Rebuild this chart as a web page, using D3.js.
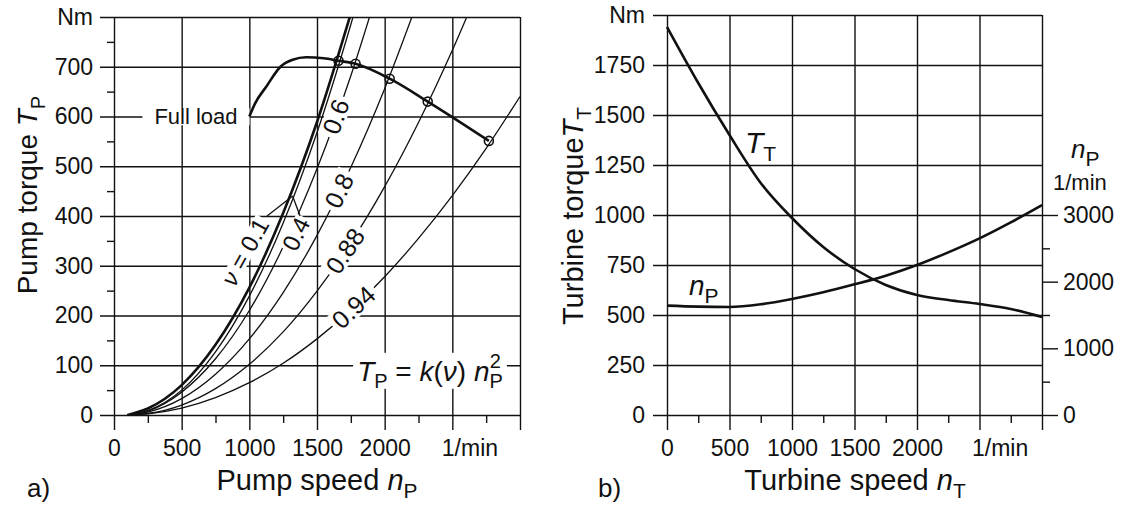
<!DOCTYPE html>
<html lang="en">
<head>
<meta charset="UTF-8">
<title>Pump and turbine characteristics</title>
<script src="https://d3js.org/d3.v7.min.js"></script>
<style>
  body { margin: 0; background: #fff; }
  svg { font-family: "Liberation Sans", Arial, Helvetica, sans-serif; fill: #111; }
  .axis line { stroke: #111; stroke-width: 1.4; }
  .curve { fill: none; stroke: #111; stroke-width: 1.3; }
  .thick { stroke-width: 2.6; }
</style>
</head>
<body>
<svg id="chart" width="1128" height="511"></svg>
<script>
// ---------- a) pump torque vs pump speed for several speed ratios ----------
const pumpSpeedTicks = [0, 500, 1000, 1500, 2000, 2500, 3000];
const pumpSpeedMinor = [250, 750, 1250, 1750, 2250, 2750];
const pumpTorqueTicks = [0, 100, 200, 300, 400, 500, 600, 700, 800];
const pumpTorqueMinor = [50, 150, 250, 350, 450, 550, 650, 750];

// [speed 1/min, torque Nm]
const ratio01 = [[100, 0], [250, 13], [500, 60], [750, 141], [1000, 256], [1250, 406], [1500, 589], [1750, 807]];
const ratio04 = [[100, 0], [250, 9], [500, 50], [750, 127], [1000, 239], [1250, 386], [1500, 568], [1750, 785], [1800, 832]];
const ratio06 = [[100, 0], [250, 8], [500, 46], [750, 113], [1000, 210], [1250, 338], [1500, 495], [1750, 682], [2000, 900]];
const ratio08 = [[100, 0], [250, 6], [500, 33], [750, 82], [1000, 153], [1250, 246], [1500, 361], [1750, 498], [2000, 656], [2250, 836]];
const ratio088 = [[100, 0], [250, 3], [500, 20], [750, 53], [1000, 102], [1250, 167], [1500, 249], [1750, 346], [2000, 459], [2250, 588], [2500, 733], [2750, 893]];
const ratio094 = [[100, 0], [250, 2.5], [500, 14], [750, 35], [1000, 65], [1250, 104], [1500, 153], [1750, 211], [2000, 278], [2250, 355], [2500, 441], [2750, 536], [3000, 640]];

const fullLoad = [[1000, 600], [1040, 625], [1130, 662], [1230, 700], [1320, 714], [1420, 719], [1550, 717], [1659, 712], [1785, 706], [2037, 676], [2318, 630], [2770, 551]];
const fullLoadPoints = [[1659, 712], [1785, 706], [2037, 676], [2318, 630], [2770, 551]];

// ---------- b) turbine torque and pump speed vs turbine speed ----------
const turbineSpeedTicks = [0, 500, 1000, 1500, 2000, 2500, 3000];
const turbineSpeedMinor = [250, 750, 1250, 1750, 2250, 2750];
const turbineTorqueTicks = [0, 250, 500, 750, 1000, 1250, 1500, 1750, 2000];
const pumpSpeedRightTicks = [0, 1000, 2000, 3000];
const pumpSpeedRightMinor = [500, 1500, 2500];

const turbineTorque = [[0, 1940], [250, 1660], [500, 1400], [750, 1160], [1000, 985], [1250, 840], [1500, 730], [1750, 650], [2000, 600], [2250, 575], [2500, 555], [2750, 530], [3000, 490]];
const pumpSpeedB = [[0, 1640], [250, 1625], [500, 1620], [750, 1660], [1000, 1740], [1250, 1840], [1500, 1960], [1750, 2090], [2000, 2250], [2250, 2440], [2500, 2650], [2750, 2890], [3000, 3150]];

const svg = d3.select("#chart");
const tickFont = 23;

// scales
const xA = d3.scaleLinear().domain([0, 3000]).range([114, 520]);
const yA = d3.scaleLinear().domain([0, 800]).range([415, 17]);
const xB = d3.scaleLinear().domain([0, 3000]).range([667, 1042]);
const yB = d3.scaleLinear().domain([0, 2000]).range([415, 15]);
const yB2 = d3.scaleLinear().domain([0, 3000]).range([415, 215]);

function styleAxis(sel, ends) {
    sel.attr("font-size", tickFont).attr("font-family", "'Liberation Sans', Arial, sans-serif");
    sel.selectAll("text").attr("fill", "#111");
    sel.selectAll(".tick line").filter(d => ends.includes(d)).attr("stroke-width", 2.2);
    sel.select(".domain").remove();
}

// ---- panel a grid / axes ----
svg.append("g").attr("class", "axis")
    .attr("transform", `translate(${xA(3000)},0)`)
    .call(d3.axisLeft(yA).tickValues(pumpTorqueTicks).tickSize(xA(3000) - 100).tickPadding(7)
        .tickFormat(d => d === 800 ? "Nm" : d))
    .call(styleAxis, [0, 800]);

svg.append("g").attr("class", "axis")
    .attr("transform", `translate(0,${yA(800)})`)
    .call(d3.axisBottom(xA).tickValues(pumpSpeedTicks).tickSize(430 - yA(800)).tickPadding(10)
        .tickFormat(d => d === 2500 ? "1/min" : d === 3000 ? "" : d))
    .call(styleAxis, [0, 3000])
    .selectAll("text").filter(d => d === 2500).attr("text-anchor", "start").attr("x", -11);

svg.append("g").attr("class", "axis")
    .attr("transform", `translate(0,${yA(0)})`)
    .call(d3.axisBottom(xA).tickValues(pumpSpeedMinor).tickSize(8).tickFormat(""))
    .select(".domain").remove();

svg.append("g").attr("class", "axis")
    .attr("transform", `translate(${xA(0)},0)`)
    .call(d3.axisLeft(yA).tickValues(pumpTorqueMinor).tickSize(7).tickFormat(""))
    .select(".domain").remove();

// ---- panel b grid / axes ----
svg.append("g").attr("class", "axis")
    .attr("transform", `translate(${xB(3000)},0)`)
    .call(d3.axisLeft(yB).tickValues(turbineTorqueTicks).tickSize(xB(3000) - 653).tickPadding(8)
        .tickFormat(d => d === 2000 ? "Nm" : d))
    .call(styleAxis, [0, 2000]);

svg.append("g").attr("class", "axis")
    .attr("transform", `translate(0,${yB(2000)})`)
    .call(d3.axisBottom(xB).tickValues(turbineSpeedTicks).tickSize(430 - yB(2000)).tickPadding(10)
        .tickFormat(d => d === 2500 ? "1/min" : d === 3000 ? "" : d))
    .call(styleAxis, [0, 3000])
    .selectAll("text").filter(d => d === 2500).attr("text-anchor", "start").attr("x", -8);

svg.append("g").attr("class", "axis")
    .attr("transform", `translate(0,${yB(0)})`)
    .call(d3.axisBottom(xB).tickValues(turbineSpeedMinor).tickSize(8).tickFormat(""))
    .select(".domain").remove();

svg.append("g").attr("class", "axis")
    .attr("transform", `translate(${xB(3000)},0)`)
    .call(d3.axisRight(yB2).tickValues(pumpSpeedRightTicks).tickSize(16).tickPadding(5).tickFormat(d3.format("d")))
    .call(styleAxis, []);

svg.append("g").attr("class", "axis")
    .attr("transform", `translate(${xB(3000)},0)`)
    .call(d3.axisRight(yB2).tickValues(pumpSpeedRightMinor).tickSize(8).tickFormat(""))
    .select(".domain").remove();

// ---- curves ----
svg.append("clipPath").attr("id", "clipA").append("rect")
    .attr("x", xA(0)).attr("y", yA(800)).attr("width", xA(3000) - xA(0)).attr("height", yA(0) - yA(800));

const lineA = d3.line().x(d => xA(d[0])).y(d => yA(d[1])).curve(d3.curveMonotoneX);
const gCurves = svg.append("g").attr("clip-path", "url(#clipA)");
const ratioSeries = [ratio01, ratio04, ratio06, ratio08, ratio088, ratio094];

const lineB = d3.line().x(d => xB(d[0])).y(d => yB(d[1])).curve(d3.curveMonotoneX);
const lineB2 = d3.line().x(d => xB(d[0])).y(d => yB2(d[1])).curve(d3.curveMonotoneX);
svg.append("path").attr("class", "curve thick").attr("stroke-width", 2.2).attr("d", lineB(turbineTorque));
svg.append("path").attr("class", "curve thick").attr("stroke-width", 2.2).attr("d", lineB2(pumpSpeedB));

// ---- labels with white backing (they break the grid lines like in the print) ----
function boxedLabel(x, y, angle, size, pad, build) {
    const g = svg.append("g").attr("transform", `translate(${x},${y}) rotate(${angle})`);
    const bg = g.append("rect").attr("fill", "#fff");
    const t = g.append("text").attr("text-anchor", "middle").attr("y", size * 0.35).attr("font-size", size);
    build(t);
    const b = t.node().getBBox();
    bg.attr("x", b.x - pad[0]).attr("y", b.y - pad[1])
        .attr("width", b.width + 2 * pad[0]).attr("height", b.height + 2 * pad[1]);
    return g;
}

function torqueAt(series, n) {
    for (let i = 1; i < series.length; i++) {
        const [n0, t0] = series[i - 1], [n1, t1] = series[i];
        if (n <= n1) return t0 + (t1 - t0) * (n - n0) / (n1 - n0);
    }
    return series[series.length - 1][1];
}

// the two off-curve labels go under the curves, so the lines stay whole
boxedLabel(245, 252, -61, 24, [2, -5], t => {
    t.append("tspan").style("font-style", "italic").text("ν");
    t.append("tspan").text(" = 0.1");
});
boxedLabel(296, 234, -64, 24, [2, -5], t => t.text("0.4"));

gCurves.selectAll("path.ratio").data(ratioSeries).join("path")
    .attr("class", (d, i) => i === 0 ? "ratio curve thick" : "ratio curve")
    .attr("d", lineA);

// inline ratio labels sitting on their curve
const inlineLabels = [
    { series: ratio06, text: "0.6", n: 1640 },
    { series: ratio08, text: "0.8", n: 1664 },
    { series: ratio088, text: "0.88", n: 1708 },
    { series: ratio094, text: "0.94", n: 1770 }
];
inlineLabels.forEach(l => {
    const px = xA(l.n), py = yA(torqueAt(l.series, l.n));
    const dx = xA(l.n + 60) - xA(l.n - 60);
    const dy = yA(torqueAt(l.series, l.n + 60)) - yA(torqueAt(l.series, l.n - 60));
    const ang = Math.atan2(dy, dx) * 180 / Math.PI;
    boxedLabel(px, py, ang, 25, [4, -3], t => t.text(l.text));
});

// leaders for the two steepest curves
const leader01 = [[1131, 400], [1320, 440]];
const leader04 = [[1375, 400], [1320, 440]];
[leader01, leader04].forEach(s => {
    svg.append("path").attr("class", "curve").attr("stroke-width", 1.1)
        .attr("d", d3.line().x(d => xA(d[0])).y(d => yA(d[1]))(s));
});

boxedLabel(196, yA(600), 0, 22, [12, -4], t => t.text("Full load"));

boxedLabel(430, 371, 0, 28, [4, -3], t => {
    t.append("tspan").style("font-style", "italic").text("T");
    t.append("tspan").attr("dy", 7).attr("font-size", 20).text("P");
    t.append("tspan").attr("dy", -7).text(" = ");
    t.append("tspan").style("font-style", "italic").text("k");
    t.append("tspan").text("(");
    t.append("tspan").style("font-style", "italic").text("ν");
    t.append("tspan").text(") ");
    t.append("tspan").style("font-style", "italic").text("n");
    t.append("tspan").attr("dy", 7).attr("font-size", 20).text("P");
    t.append("tspan").attr("dx", -13).attr("dy", -20).attr("font-size", 20).text("2");
});

// full load line and operating points on top
svg.append("path").attr("class", "curve thick").attr("stroke-width", 2.4).attr("d", lineA(fullLoad));
svg.append("g").selectAll("circle").data(fullLoadPoints).join("circle")
    .attr("cx", d => xA(d[0])).attr("cy", d => yA(d[1])).attr("r", 4.5)
    .attr("fill", "none").attr("stroke", "#111").attr("stroke-width", 1.6);

// curve names panel b
const tT = svg.append("text").attr("x", 745).attr("y", 153).attr("font-size", 30);
tT.append("tspan").style("font-style", "italic").text("T");
tT.append("tspan").attr("dy", 8).attr("font-size", 21).text("T");

const tN = svg.append("text").attr("x", 689).attr("y", 295).attr("font-size", 28);
tN.append("tspan").style("font-style", "italic").text("n");
tN.append("tspan").attr("dy", 8).attr("font-size", 21).text("P");

// right axis unit
const tR = svg.append("text").attr("x", 1071).attr("y", 158).attr("font-size", 26);
tR.append("tspan").style("font-style", "italic").text("n");
tR.append("tspan").attr("dy", 8).attr("font-size", 21).text("P");
svg.append("text").attr("x", 1053).attr("y", 190).attr("font-size", 22).text("1/min");

// axis titles
function title(x, y, angle, size, words, sym, sub) {
    const t = svg.append("text").attr("text-anchor", "middle").attr("font-size", size)
        .attr("transform", `translate(${x},${y}) rotate(${angle})`);
    t.append("tspan").text(words);
    t.append("tspan").style("font-style", "italic").text(sym);
    t.append("tspan").attr("dy", 8).attr("font-size", size * 0.72).text(sub);
}
title(37, 195, -90, 28, "Pump torque ", "T", "P");
title(317, 490, 0, 29, "Pump speed ", "n", "P");
title(583, 216, -90, 29, "Turbine torque", "T", "T");
title(855, 490, 0, 29, "Turbine speed ", "n", "T");

svg.append("text").attr("x", 27).attr("y", 497).attr("font-size", 26).text("a)");
svg.append("text").attr("x", 598).attr("y", 497).attr("font-size", 26).text("b)");
</script>
</body>
</html>
